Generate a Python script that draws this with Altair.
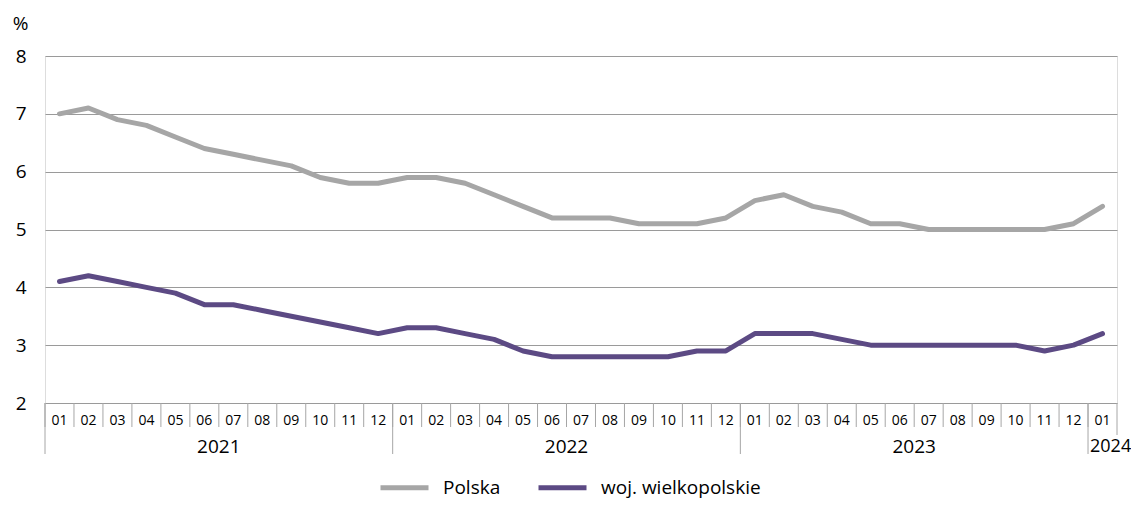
import altair as alt
import pandas as pd

months = ["01", "02", "03", "04", "05", "06", "07", "08", "09", "10", "11", "12"] * 3 + ["01"]
years = ["2021"] * 12 + ["2022"] * 12 + ["2023"] * 12 + ["2024"]

polska = [7.0, 7.1, 6.9, 6.8, 6.6, 6.4, 6.3, 6.2, 6.1, 5.9, 5.8, 5.8,
          5.9, 5.9, 5.8, 5.6, 5.4, 5.2, 5.2, 5.2, 5.1, 5.1, 5.1, 5.2,
          5.5, 5.6, 5.4, 5.3, 5.1, 5.1, 5.0, 5.0, 5.0, 5.0, 5.0, 5.1,
          5.4]
wielkopolskie = [4.1, 4.2, 4.1, 4.0, 3.9, 3.7, 3.7, 3.6, 3.5, 3.4, 3.3, 3.2,
                 3.3, 3.3, 3.2, 3.1, 2.9, 2.8, 2.8, 2.8, 2.8, 2.8, 2.9, 2.9,
                 3.2, 3.2, 3.2, 3.1, 3.0, 3.0, 3.0, 3.0, 3.0, 3.0, 2.9, 3.0,
                 3.2]

series_names = ["Polska", "woj. wielkopolskie"]
series_colors = ["#a6a6a6", "#5c4a84"]
y_ticks = [2, 3, 4, 5, 6, 7, 8]

n = len(months)
idx = list(range(n))

df_lines = pd.DataFrame(
    [{"idx": i, "value": v, "series": series_names[0]} for i, v in zip(idx, polska)]
    + [{"idx": i, "value": v, "series": series_names[1]} for i, v in zip(idx, wielkopolskie)]
)
df_months = pd.DataFrame({"idx": idx, "month": months, "year": years})
df_month_sep = pd.DataFrame({"b": [i - 0.5 for i in idx]})

# year groups
year_groups = df_months.groupby("year", sort=True)["idx"].agg(["min", "max", "count"]).reset_index()
year_groups["center"] = (year_groups["min"] + year_groups["max"]) / 2
year_groups["start"] = year_groups["min"] - 0.5
full_years = year_groups[year_groups["count"] == 12]
part_years = year_groups[year_groups["count"] < 12]
df_edge = pd.DataFrame({"b": [n - 0.5]})

W, H = 1072, 347
xscale = alt.Scale(domain=[-0.5, n - 0.5], nice=False, zero=False)
sep_color = "#a6a6a6"
FONT = "Open Sans"


def X(field):
    return alt.X(field, type="quantitative", scale=xscale, axis=None)


lines = alt.Chart(df_lines).mark_line(
    strokeWidth=5, strokeCap="round", strokeJoin="round"
).encode(
    x=X("idx"),
    y=alt.Y(
        "value:Q",
        scale=alt.Scale(domain=[2, 8], nice=False, zero=False),
        axis=alt.Axis(
            values=y_ticks, grid=True, gridColor="#9a9a9a", gridWidth=1,
            domain=False, ticks=False, labelPadding=19, labelFontSize=19,
            labelColor="#000", labelFont=FONT,
            title="%", titleAngle=0, titleX=-17, titleY=-33, titleAlign="right",
            titleBaseline="middle", titleFontSize=19, titleFontWeight="normal",
            titleFont=FONT, titleColor="#000",
        ),
    ),
    color=alt.Color(
        "series:N",
        scale=alt.Scale(domain=series_names, range=series_colors),
        sort=series_names,
        legend=alt.Legend(
            title=None, orient="none", direction="horizontal",
            legendX=349, legendY=421,
            symbolType="M-3,0H3", symbolStrokeWidth=5, symbolSize=256,
            labelFontSize=19, labelFont=FONT, labelColor="#000",
            labelOffset=28, columnPadding=27,
        ),
    ),
)

month_text = alt.Chart(df_months).mark_text(
    fontSize=14, baseline="middle", align="center", font=FONT, color="#000"
).encode(x=X("idx"), y=alt.value(365), text="month:N")

month_sep = alt.Chart(df_month_sep).mark_rule(color=sep_color, strokeWidth=1).encode(
    x=X("b"), y=alt.value(H), y2=alt.value(371)
)

year_sep = alt.Chart(year_groups).mark_rule(color=sep_color, strokeWidth=1).encode(
    x=X("start"), y=alt.value(H), y2=alt.value(398)
)

edge = alt.Chart(df_edge).mark_rule(color=sep_color, strokeWidth=1).encode(
    x=X("b"), y=alt.value(H), y2=alt.value(379)
)

year_text = alt.Chart(full_years).mark_text(
    fontSize=19, baseline="middle", align="center", font=FONT, color="#000"
).encode(x=X("center"), y=alt.value(391), text="year:N")

year_text_part = alt.Chart(part_years).mark_text(
    fontSize=18, baseline="middle", align="left", dx=2, font=FONT, color="#000"
).encode(x=X("start"), y=alt.value(391), text="year:N")

chart = alt.layer(
    lines, month_sep, year_sep, edge, month_text, year_text, year_text_part
).properties(
    width=W, height=H,
    autosize=alt.AutoSizeParams(type="none"),
    padding={"left": 37, "top": 48, "right": 14, "bottom": 100},
).configure_view(stroke=None).configure(font=FONT)

chart.save("out.html", embed_options={"renderer": "svg", "actions": False})
